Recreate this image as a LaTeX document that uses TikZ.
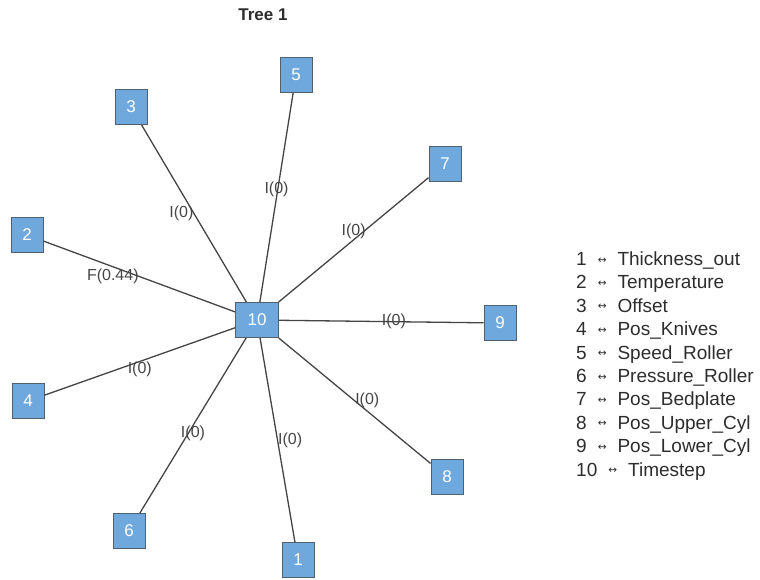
\documentclass[tikz,border=0pt]{standalone}
\usepackage{fontspec}
\setmainfont{Liberation Sans}
\newfontfamily\arrowfont{DejaVu Sans}
\definecolor{boxfill}{RGB}{111,168,220}
\definecolor{boxborder}{RGB}{85,95,105}
\definecolor{edgecol}{RGB}{68,68,68}
\definecolor{labelcol}{RGB}{70,70,70}
\definecolor{legendcol}{RGB}{45,45,45}
\newcommand{\lra}{\hspace{11pt}{\arrowfont\fontsize{10.5}{10.5}\selectfont\raisebox{2.5pt}{↔}}\hspace{11pt}}
\begin{document}
\begin{tikzpicture}[x=1pt,y=-1pt,
  vbox/.style={draw=boxborder, line width=0.9pt, fill=boxfill, text=white,
    font=\fontsize{17}{17}\selectfont, minimum width=32pt, minimum height=35pt, inner sep=0pt},
  edge/.style={draw=edgecol, line width=1.3pt},
  lbl/.style={font=\fontsize{16}{16}\selectfont, text=labelcol, inner sep=0pt},
  legend/.style={font=\fontsize{19}{19}\selectfont, text=legendcol, anchor=base west, inner sep=0pt}]
\useasboundingbox (0,0) rectangle (760,579);
\node[font=\bfseries\fontsize{17}{17}\selectfont, text=legendcol] (title) at (263,15) {Tree 1};
% nodes
\node[vbox, minimum width=43pt] (n10) at (257,320) {10};
\node[vbox] (n1) at (298,560) {1};
\node[vbox] (n2) at (27,235) {2};
\node[vbox] (n3) at (131,107) {3};
\node[vbox] (n4) at (28,401) {4};
\node[vbox] (n5) at (296,75) {5};
\node[vbox] (n6) at (129,531) {6};
\node[vbox] (n7) at (445,164) {7};
\node[vbox] (n8) at (447,477) {8};
\node[vbox] (n9) at (500,323) {9};
% edges
\draw[edge] (n10) -- (n3) node[lbl, pos=0.5, anchor=east] {I(0)};
\draw[edge] (n10) -- (n5) node[lbl, pos=0.5, anchor=south] {I(0)};
\draw[edge] (n10) -- (n7) node[lbl, pos=0.5, anchor=south] {I(0)};
\draw[edge] (n10) -- (n2) node[lbl, pos=0.5, anchor=east] {F(0.44)};
\draw[edge] (n10) -- (n4) node[lbl, pos=0.5, anchor=north] {I(0)};
\draw[edge] (n10) -- (n9) node[lbl, pos=0.5, anchor=west] {I(0)};
\draw[edge] (n10) -- (n8) node[lbl, pos=0.5, anchor=west] {I(0)};
\draw[edge] (n10) -- (n6) node[lbl, pos=0.5, anchor=north] {I(0)};
\draw[edge] (n10) -- (n1) node[lbl, pos=0.5, anchor=west] {I(0)};
% legend
\node[legend] (l1) at (576,265.5) {1\lra Thickness\_out};
\node[legend] (l2) at (576,288.9) {2\lra Temperature};
\node[legend] (l3) at (576,312.3) {3\lra Offset};
\node[legend] (l4) at (576,335.7) {4\lra Pos\_Knives};
\node[legend] (l5) at (576,359.1) {5\lra Speed\_Roller};
\node[legend] (l6) at (576,382.5) {6\lra Pressure\_Roller};
\node[legend] (l7) at (576,405.9) {7\lra Pos\_Bedplate};
\node[legend] (l8) at (576,429.3) {8\lra Pos\_Upper\_Cyl};
\node[legend] (l9) at (576,452.7) {9\lra Pos\_Lower\_Cyl};
\node[legend] (l10) at (576,476.1) {10\lra Timestep};
\end{tikzpicture}
\end{document}
